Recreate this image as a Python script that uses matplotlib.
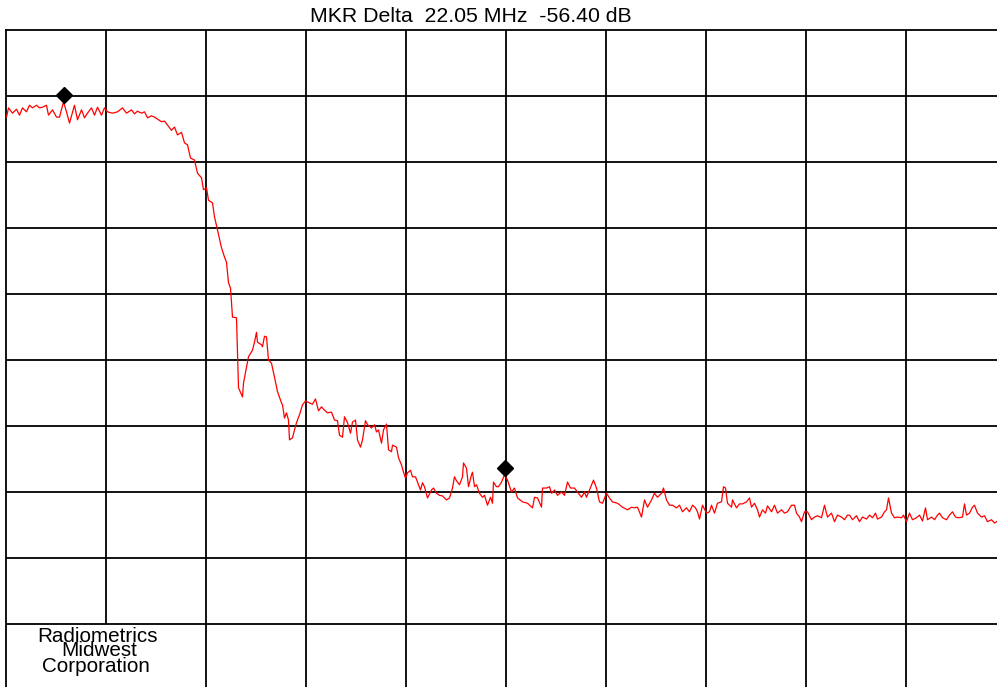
import numpy as np
import matplotlib
matplotlib.use("Agg")
import matplotlib.pyplot as plt
from matplotlib.transforms import ScaledTranslation

# analyzer trace: frequency (MHz, 5 MHz/div) and level (dB, 10 dB/div)
trace_mhz = [
    0.0, 0.05, 0.15, 0.35, 0.55, 0.7, 0.85, 1.05, 1.2, 1.35,
    1.55, 1.7, 1.85, 2.05, 2.15, 2.35, 2.55, 2.7, 2.9, 3.05,
    3.2, 3.45, 3.6, 3.8, 3.95, 4.1, 4.3, 4.45, 4.6, 4.8,
    4.95, 5.1, 5.35, 5.6, 5.85, 6.05, 6.3, 6.45, 6.6, 6.8,
    6.95, 7.1, 7.3, 7.45, 7.6, 7.8, 7.95, 8.1, 8.3, 8.45,
    8.6, 8.8, 8.95, 9.1,
    9.25, 9.45, 9.6, 9.8, 9.9, 10.05, 10.15, 10.35, 10.45, 10.6,
    10.8, 10.95, 11.05, 11.15, 11.25, 11.35, 11.55, 11.6, 11.65, 11.85,
    11.9, 12.05, 12.15, 12.35, 12.45, 12.55, 12.6, 12.8, 12.85, 12.95,
    13.05, 13.15, 13.3, 13.45, 13.6, 13.8, 13.85, 13.95, 14.05, 14.15,
    14.2, 14.35, 14.45, 14.55, 14.7, 14.85, 15.0, 15.2, 15.35, 15.5,
    15.65, 15.8, 15.95, 16.1, 16.3, 16.45, 16.6, 16.7, 16.85, 16.95,
    17.1, 17.25, 17.35, 17.5, 17.6, 17.75, 17.85, 18.0, 18.1, 18.3,
    18.45, 18.55, 18.65, 18.8, 18.9, 19.05, 19.15, 19.3, 19.35, 19.55,
    19.65, 19.8, 19.9, 20.0, 20.1, 20.25, 20.35, 20.5, 20.6, 20.75,
    20.85, 20.95, 21.1, 21.3, 21.4, 21.55, 21.7, 21.85, 22.05, 22.2,
    22.35, 22.45, 22.55, 22.7, 22.85, 22.9, 23.05, 23.15, 23.3, 23.35,
    23.45, 23.55, 23.7, 23.85, 23.95, 24.1, 24.25, 24.35, 24.4, 24.55,
    24.65, 24.8, 24.95, 25.1, 25.3, 25.45, 25.6, 25.85, 26.1, 26.35,
    26.45, 26.6, 26.8, 26.85, 27.05, 27.2, 27.3, 27.45, 27.6, 27.8,
    27.95, 28.1, 28.25, 28.45, 28.6, 28.8, 28.95, 29.05, 29.2, 29.4,
    29.55, 29.7, 29.85, 30.05, 30.2, 30.35, 30.6, 30.85, 31.1, 31.3,
    31.45, 31.6, 31.8, 31.95, 32.1, 32.3, 32.45, 32.6, 32.8, 32.9,
    33.05, 33.2, 33.35, 33.55, 33.7, 33.85, 34.05, 34.2, 34.35, 34.5,
    34.6, 34.7, 34.85, 35.05, 35.2, 35.3, 35.45, 35.6, 35.8, 35.9,
    36.0, 36.1, 36.3, 36.35, 36.55, 36.7, 36.85, 37.05, 37.2, 37.3,
    37.45, 37.6, 37.7, 37.85, 38.0, 38.1, 38.3, 38.45, 38.6, 38.8,
    38.95, 39.1, 39.3, 39.45, 39.55, 39.7, 39.8, 39.95, 40.1, 40.3,
    40.45, 40.6, 40.8, 40.95, 41.1, 41.3, 41.45, 41.6, 41.8, 41.95,
    42.1, 42.2, 42.35, 42.55, 42.7, 42.85, 43.05, 43.2, 43.35, 43.5,
    43.6, 43.8, 43.95, 44.05, 44.15, 44.3, 44.45, 44.6, 44.8, 44.9,
    45.05, 45.2, 45.35, 45.55, 45.7, 45.85, 46.0, 46.1, 46.3, 46.45,
    46.6, 46.7, 46.85, 47.05, 47.2, 47.35, 47.5, 47.65, 47.85, 47.95,
    48.05, 48.2, 48.35, 48.45, 48.6, 48.8, 48.95, 49.1, 49.3, 49.45,
    49.55, 49.75, 50.0,
]
trace_db = [
    -12.9, -13.2, -11.8, -12.6, -12.0, -12.9, -11.8, -12.4, -11.4, -11.8,
    -11.4, -11.8, -11.7, -11.4, -12.9, -12.1, -13.2, -13.2, -10.9, -12.4,
    -14.1, -11.4, -13.6, -12.1, -13.3, -12.6, -11.8, -12.9, -11.7, -12.9,
    -11.8, -12.4, -12.6, -12.4, -11.8, -12.6, -12.1, -12.7, -12.3, -12.6,
    -12.4, -13.3, -13.0, -13.2, -13.5, -13.9, -13.8, -14.4, -15.2, -14.7,
    -15.9, -15.5, -17.1, -17.4,
    -19.4, -19.7, -21.7, -22.4, -24.2, -23.9, -25.8, -26.2, -28.3, -30.3,
    -33.0, -34.4, -35.2, -38.3, -39.1, -43.5, -43.6, -48.9, -54.2, -55.6,
    -53.5, -51.1, -49.5, -48.5, -47.3, -45.8, -47.3, -47.7, -48.0, -46.4,
    -46.5, -50.0, -50.5, -52.6, -54.8, -56.5, -56.8, -58.8, -58.0, -59.1,
    -62.1, -61.8, -60.6, -59.5, -58.3, -56.8, -56.2, -56.5, -56.7, -55.9,
    -57.7, -57.1, -57.6, -58.0, -57.9, -59.1, -59.2, -61.4, -61.7, -58.6,
    -59.5, -61.1, -59.4, -59.1, -62.1, -63.2, -62.1, -59.2, -59.8, -60.3,
    -59.8, -60.9, -60.6, -62.6, -60.6, -59.7, -63.6, -63.9, -62.9, -63.2,
    -64.8, -65.9, -67.0, -67.9, -67.1, -66.7, -67.7, -67.7, -68.5, -69.7,
    -68.6, -69.2, -70.9, -69.7, -69.4, -70.2, -70.5, -70.6, -71.2, -70.9,
    -69.4, -67.7, -68.3, -68.9, -67.7, -65.6, -66.4, -69.2, -67.4, -67.0,
    -69.2, -68.9, -70.2, -70.8, -70.5, -72.0, -70.8, -71.7, -68.5, -69.2,
    -69.2, -68.5, -67.4, -68.2, -70.0, -69.4, -70.9, -71.5, -71.7, -72.4,
    -70.8, -70.9, -72.3, -69.4, -69.4, -69.2, -70.2, -69.7, -70.5, -70.0,
    -70.5, -68.5, -69.4, -69.4, -70.0, -70.8, -70.0, -70.8, -69.7, -68.2,
    -69.4, -71.5, -71.7, -70.2, -70.9, -71.5, -71.7, -72.3, -72.7, -72.3,
    -72.4, -72.3, -73.8, -71.2, -72.3, -71.2, -70.2, -70.8, -70.2, -69.4,
    -71.2, -72.0, -72.0, -72.4, -72.0, -73.0, -72.4, -73.0, -72.0, -72.4,
    -73.0, -74.1, -72.0, -73.2, -73.0, -72.0, -73.2, -71.7, -71.5, -69.2,
    -69.4, -71.7, -72.3, -71.2, -72.4, -71.8, -71.8, -71.5, -70.9, -72.3,
    -71.7, -72.7, -73.8, -72.7, -73.2, -72.1, -73.0, -72.0, -73.2, -72.7,
    -73.2, -73.0, -72.0, -72.0, -73.2, -73.8, -74.5, -73.0, -73.0, -74.2,
    -73.8, -73.6, -73.9, -72.0, -73.8, -73.2, -74.5, -73.5, -73.8, -74.2,
    -73.5, -73.5, -74.2, -73.6, -74.5, -73.8, -74.1, -73.5, -73.9, -73.2,
    -74.1, -73.8, -73.0, -72.7, -70.9, -73.2, -73.9, -73.8, -73.9, -73.5,
    -74.5, -73.2, -74.2, -73.9, -73.5, -74.4, -72.4, -74.2, -73.8, -74.2,
    -73.5, -73.2, -73.9, -74.2, -73.5, -73.0, -73.8, -73.9, -73.8, -71.8,
    -73.5, -73.2, -72.3, -72.0, -73.2, -73.8, -73.6, -74.5, -74.2, -74.7,
    -74.5, -74.2, -74.4,
]
# marker frequencies (MHz): reference marker and delta marker
marker_mhz = [2.9, 24.95]

title_text = "MKR Delta  22.05 MHz  -56.40 dB"
logo_lines = ["Radiometrics", "Midwest", "Corporation"]

plt.rcParams["font.family"] = ["Liberation Sans", "DejaVu Sans"]

W, H = 997, 687
fig = plt.figure(figsize=(W / 100, H / 100), dpi=100)
# screen graticule runs slightly past the right and bottom edges of the capture
ax = fig.add_axes([5.5 / W, (H - 690) / H, 1000 / W, 660 / H])

ax.set_xlim(0, 50)
ax.set_ylim(-100, 0)
ax.set_xticks([])
ax.set_yticks([])
for s in ax.spines.values():
    s.set_color("black")
    s.set_linewidth(1.3)

# graticule: 10 x 10 divisions, the line at 5 MHz stops above the logo box
grid_x = np.arange(5, 50, 5)
grid_y = np.arange(-90, 0, 10)
for gx in grid_x:
    bottom = -90 if gx == 5 else -100
    ax.vlines(gx, bottom, 0, color="black", linewidth=1.3, zorder=1)
ax.hlines(grid_y, 0, 50, color="black", linewidth=1.3, zorder=1)

ax.plot(trace_mhz, trace_db, color="red", linewidth=0.9, zorder=3)

# diamonds sit just above the trace point they mark
mk_db = np.interp(marker_mhz, trace_mhz, trace_db)
lift = ax.transData + ScaledTranslation(0, 5 / 72, fig.dpi_scale_trans)
ax.plot(marker_mhz, mk_db, linestyle="none", marker="D", markersize=8,
        color="black", transform=lift, zorder=4, clip_on=False)

fig.text(471 / W, 1 - 17 / H, title_text, ha="center", va="center", fontsize=15.3)

logo_x = [97, 99, 96]
logo_y = [636, 651, 666]
for txt, lx, ly in zip(logo_lines, logo_x, logo_y):
    fig.text(lx / W, 1 - ly / H, txt, ha="center", va="center", fontsize=14.9)

fig.savefig("out.png", dpi=100)
